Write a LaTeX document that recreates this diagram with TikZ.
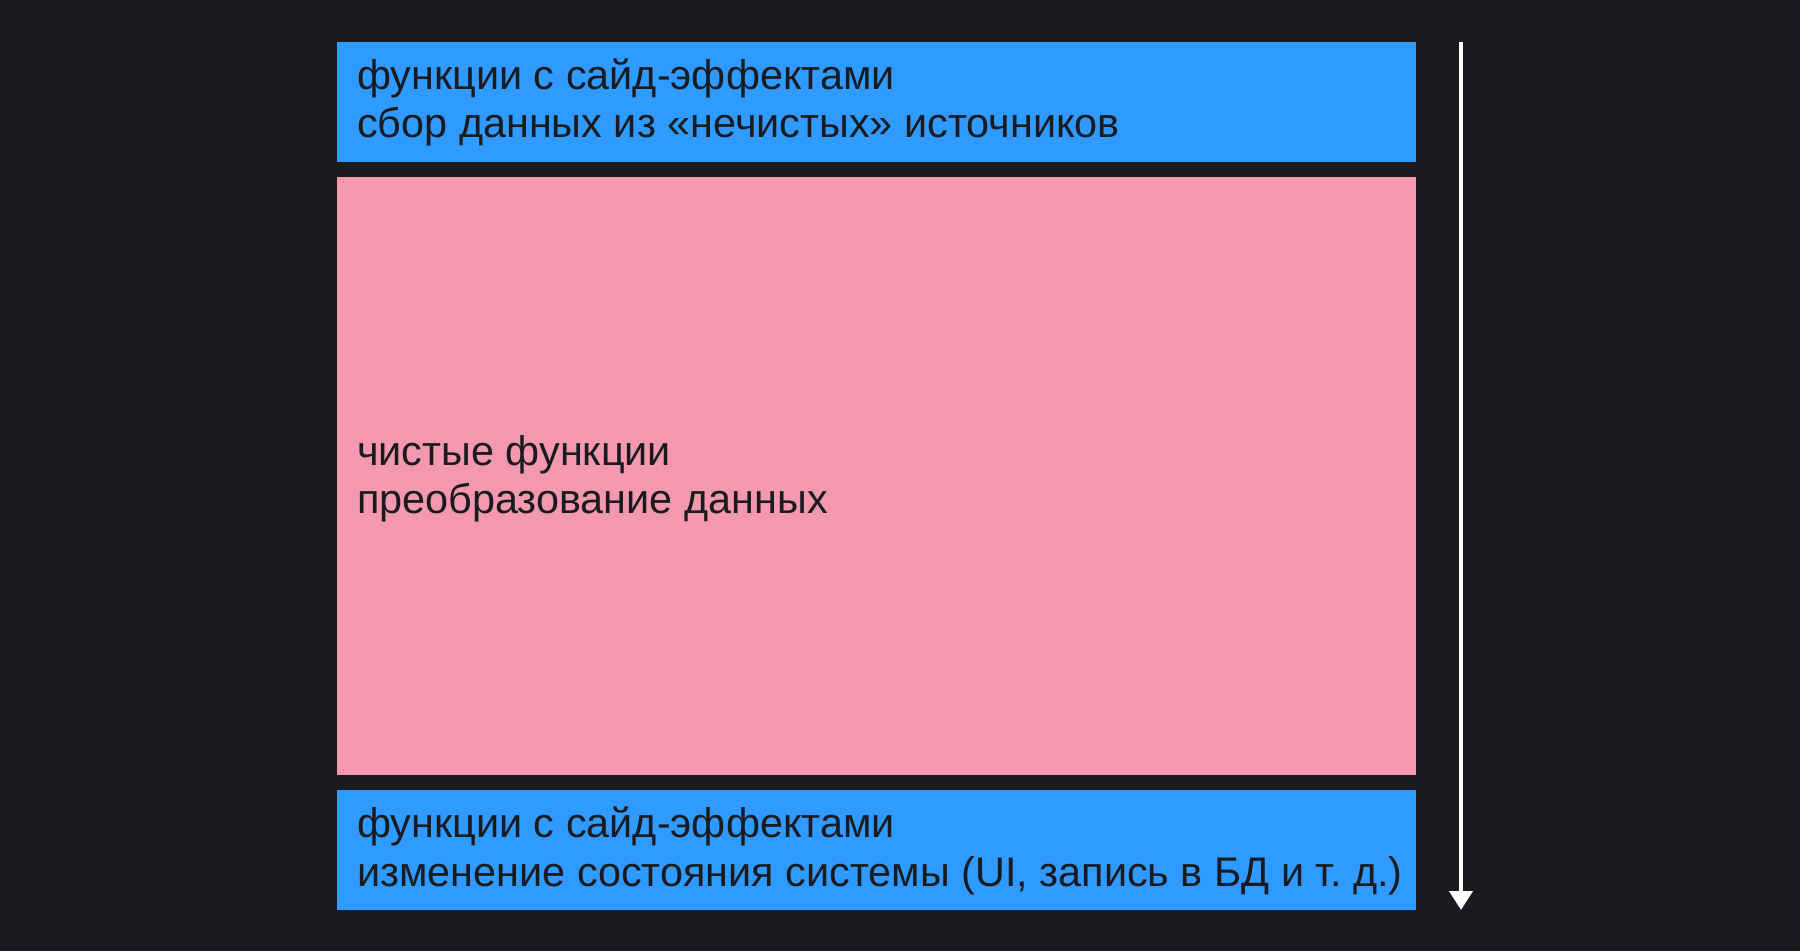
\documentclass[tikz,border=0pt]{standalone}
\usepackage{fontspec}
\setmainfont{Liberation Sans}
\usetikzlibrary{arrows.meta}
\definecolor{bgc}{HTML}{1A1B1F}
\definecolor{bluec}{HTML}{2F9AFF}
\definecolor{pinkc}{HTML}{F398AE}
\definecolor{txtc}{HTML}{1A1B1F}
\newlength\calibw
\newcommand\lineA{функции с сайд-эффектами}
\newcommand\lineB{сбор данных из «нечистых» источников}
\newcommand\lineC{чистые функции}
\newcommand\lineD{преобразование данных}
\newcommand\lineE{изменение состояния системы (UI, запись в БД и т.~д.)}
\begin{document}
\settowidth\calibw{\fontsize{10pt}{12pt}\selectfont \lineA\lineB\lineD\lineE}
\pgfmathsetmacro\fsz{2816/\calibw*10}
\begin{tikzpicture}[x=1pt,y=-1pt,
  panel/.style={inner sep=0pt, minimum width=1079pt, minimum height=#1, anchor=north west},
  paneltext/.style={inner sep=0pt, anchor=base west, text=txtc, font=\fontsize{\fsz pt}{49pt}\selectfont},
  flowarrow/.style={draw=white, line width=4pt, -{Triangle[width=23pt,length=19pt]}}]
\fill[bgc] (0,0) rectangle (1800,951);
\useasboundingbox (0,0) rectangle (1800,951);
\node[panel=120pt, fill=bluec] (top) at (337,42) {};
\node[panel=598pt, fill=pinkc] (pure) at (337,177) {};
\node[panel=120pt, fill=bluec] (bottom) at (337,790) {};
\node[paneltext] (topA) at ([xshift=20pt,yshift=-47pt]top.north west) {\lineA};
\node[paneltext] (topB) at ([xshift=20pt,yshift=-95.5pt]top.north west) {\lineB};
\node[paneltext] (pureA) at ([xshift=20pt,yshift=11pt]pure.west) {\lineC};
\node[paneltext] (pureB) at ([xshift=20pt,yshift=-37.5pt]pure.west) {\lineD};
\node[paneltext] (bottomA) at ([xshift=20pt,yshift=-47pt]bottom.north west) {\lineA};
\node[paneltext] (bottomB) at ([xshift=20pt,yshift=-96pt]bottom.north west) {\lineE};
\coordinate (arrowstart) at (1461,42);
\coordinate (arrowend) at (1461,910);
\draw[flowarrow] (arrowstart) -- (arrowend);
\end{tikzpicture}
\end{document}
